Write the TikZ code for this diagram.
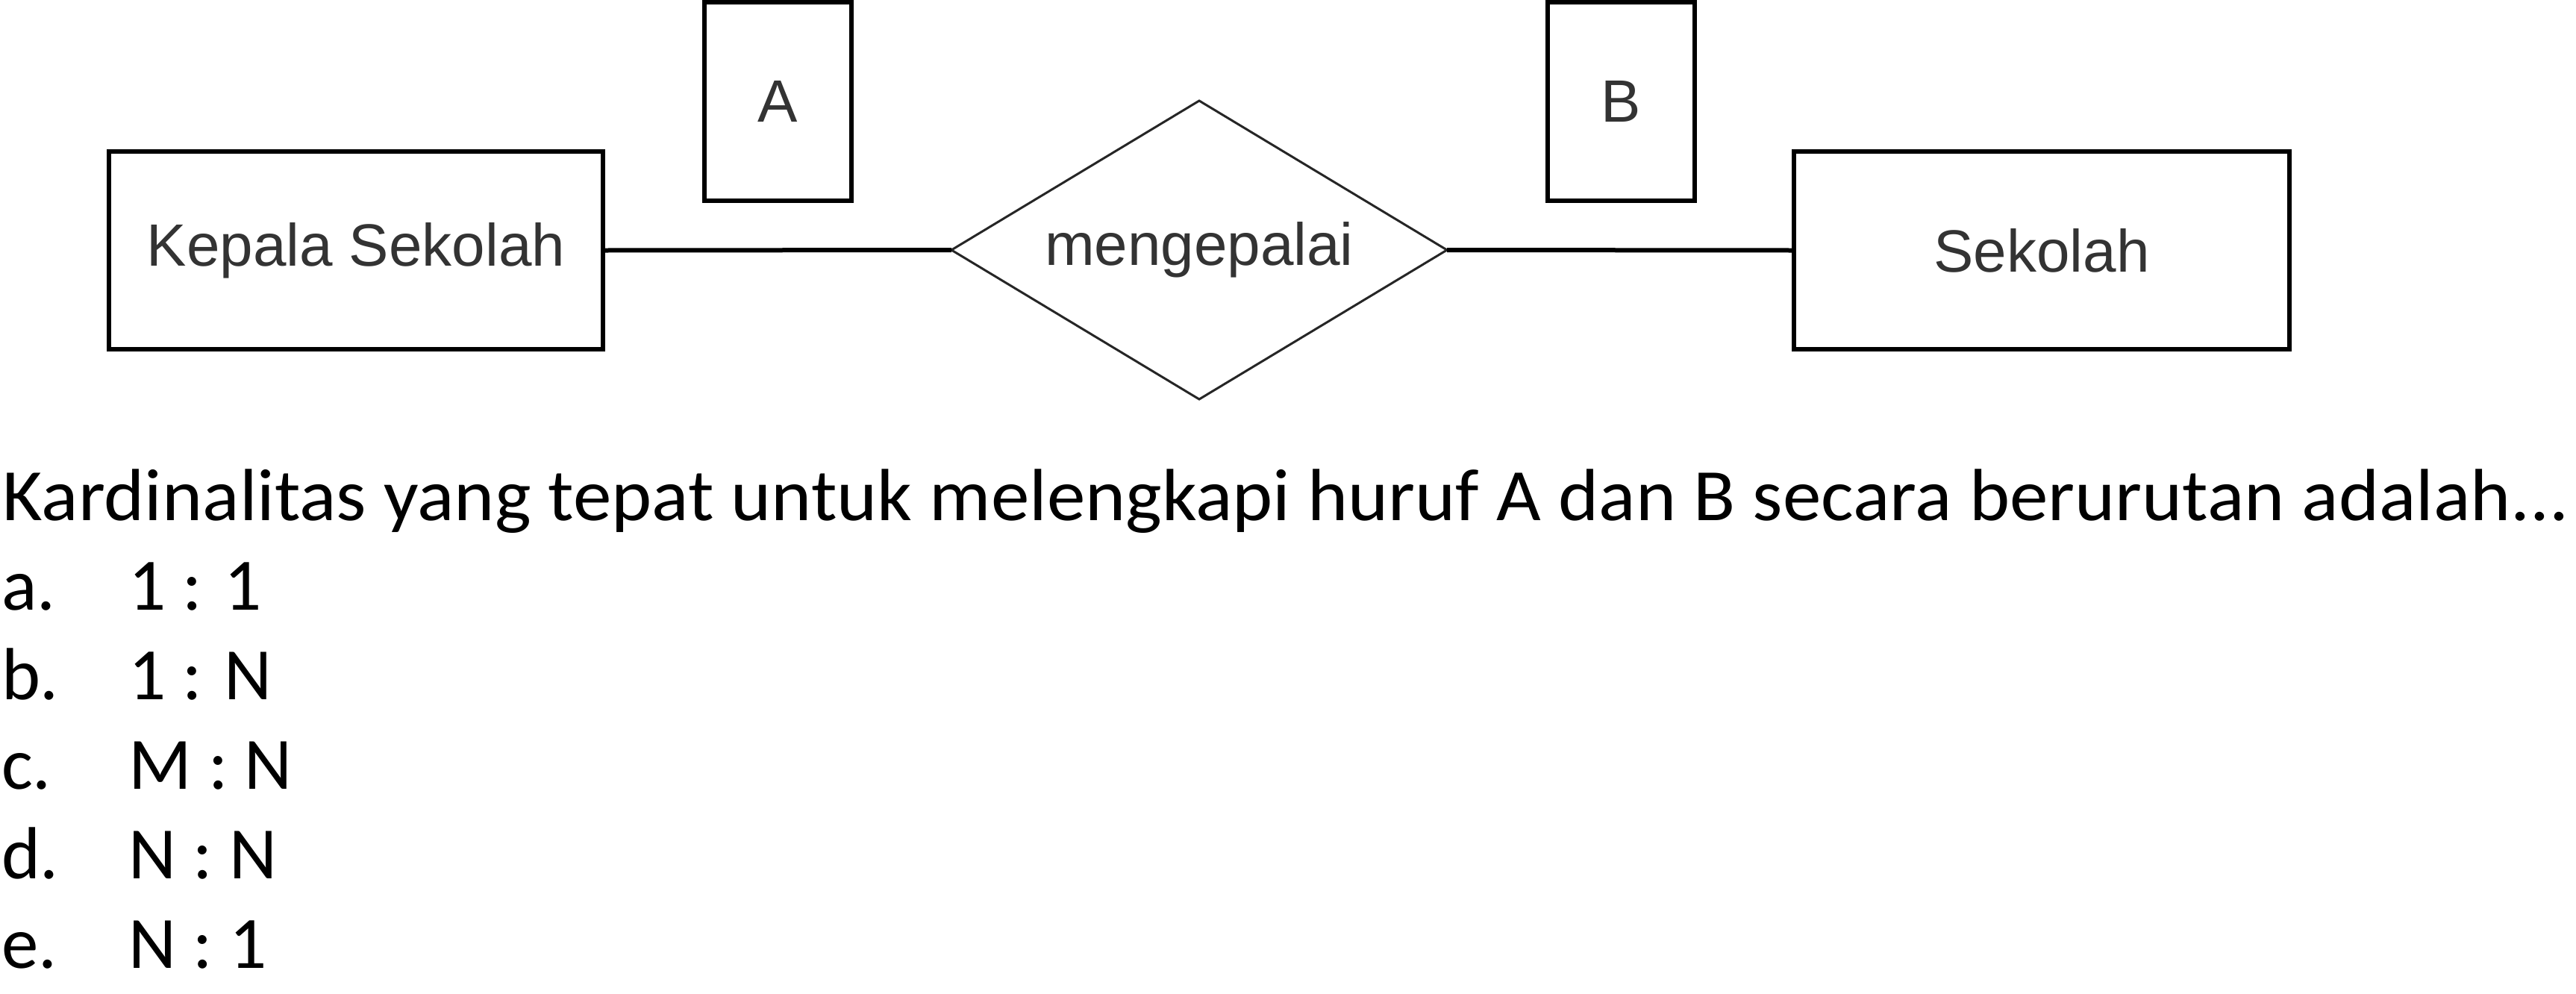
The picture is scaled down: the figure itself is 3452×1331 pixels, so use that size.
\documentclass[tikz,border=0pt]{standalone}
\usepackage{fontspec}
\setmainfont{Carlito}
\newfontfamily\diagfont{Liberation Sans}
\usetikzlibrary{shapes.geometric}
\begin{document}
\begin{tikzpicture}[x=1pt,y=-1pt,
  entbox/.style={draw=black,line width=6pt,rectangle,inner sep=0pt,outer sep=0pt,
    minimum width=#1,minimum height=265pt,font=\diagfont\fontsize{80pt}{96pt}\selectfont,text=black!80},
  cardbox/.style={draw=black,line width=6pt,rectangle,inner sep=0pt,outer sep=0pt,
    minimum width=197pt,minimum height=266pt,font=\diagfont\fontsize{80pt}{96pt}\selectfont,text=black!80},
  relshape/.style={draw=black!85,line width=3pt,diamond,shape aspect=1.66,inner sep=0pt,outer sep=0pt,
    minimum width=664pt,minimum height=400pt,font=\diagfont\fontsize{80pt}{96pt}\selectfont,text=black!80},
  conn/.style={draw=black,line width=6pt},
  qtext/.style={anchor=base west,inner sep=0pt,outer sep=0pt,font=\fontsize{99pt}{120pt}\selectfont}
]
\useasboundingbox (0,0) rectangle (3452,1331);
\node[entbox=662pt] (kepala) at (477,335.5) {Kepala Sekolah};
\node[entbox=664pt] (sekolah) at (2736,335.5) {Sekolah};
\node[relshape] (rel) at (1607,335) {mengepalai};
\node[cardbox] (ca) at (1042.5,136) {A};
\node[cardbox] (cb) at (2172.5,136) {B};
\draw[conn] (kepala.east) -- (rel.west);
\draw[conn] (rel.east) -- (sekolah.west);
\node[qtext,xscale=1.041] (q) at (4,697) {Kardinalitas yang tepat untuk melengkapi huruf A dan B secara berurutan adalah...};
\node[qtext] (la) at (2,817) {a.};
\node[qtext] (oa) at (172,817) {1 : 1};
\node[qtext] (lb) at (2,937) {b.};
\node[qtext] (ob) at (172,937) {1 : N};
\node[qtext] (lc) at (2,1057) {c.};
\node[qtext] (oc) at (172,1057) {M : N};
\node[qtext] (ld) at (2,1177) {d.};
\node[qtext] (od) at (172,1177) {N : N};
\node[qtext] (le) at (2,1297) {e.};
\node[qtext] (oe) at (172,1297) {N : 1};
\end{tikzpicture}
\end{document}
